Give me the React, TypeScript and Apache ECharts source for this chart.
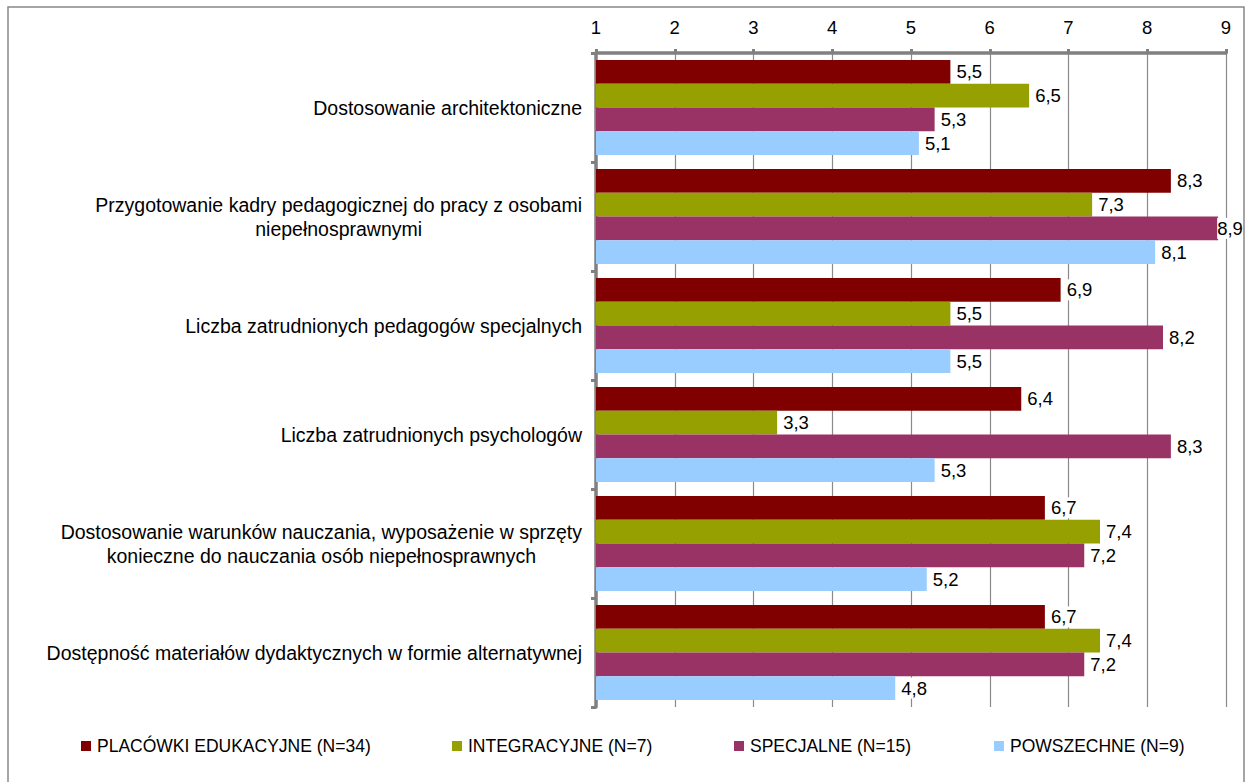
import React, { useEffect, useRef } from "react";
import * as echarts from "echarts";

const categories: string[] = [
  "Dostosowanie architektoniczne",
  "Przygotowanie kadry pedagogicznej do pracy z osobami\nniepełnosprawnymi",
  "Liczba zatrudnionych pedagogów specjalnych",
  "Liczba zatrudnionych psychologów",
  "Dostosowanie warunków nauczania, wyposażenie w sprzęty\nkonieczne do nauczania osób niepełnosprawnych",
  "Dostępność materiałów dydaktycznych w formie alternatywnej",
];

const seriesNames: string[] = [
  "PLACÓWKI EDUKACYJNE (N=34)",
  "INTEGRACYJNE (N=7)",
  "SPECJALNE (N=15)",
  "POWSZECHNE (N=9)",
];

const placowki: number[] = [5.5, 8.3, 6.9, 6.4, 6.7, 6.7];
const integracyjne: number[] = [6.5, 7.3, 5.5, 3.3, 7.4, 7.4];
const specjalne: number[] = [5.3, 8.9, 8.2, 8.3, 7.2, 7.2];
const powszechne: number[] = [5.1, 8.1, 5.5, 5.3, 5.2, 4.8];

const colors: string[] = ["#800000", "#96A000", "#993366", "#99CCFF"];
const axisTicks: number[] = [1, 2, 3, 4, 5, 6, 7, 8, 9];

const FONT = "'Liberation Sans', Arial, sans-serif";
const legendLefts = [76, 447, 729, 989];

export default function App() {
  const ref = useRef<HTMLDivElement>(null);
  useEffect(() => {
    if (!ref.current) return;
    const chart = echarts.init(ref.current, null, { renderer: "svg" });
    const allData = [placowki, integracyjne, specjalne, powszechne];
    const option: any = {
      animation: false,
      backgroundColor: "#ffffff",
      grid: { left: 596, right: 24, top: 53, bottom: 75, containLabel: false },
      legend: seriesNames.map((n, i) => ({
        data: [n],
        left: legendLefts[i],
        top: 732,
        icon: "rect",
        itemWidth: 10,
        itemHeight: 10,
        itemGap: 0,
        selectedMode: false,
        textStyle: { fontFamily: FONT, fontSize: 17.5, color: "#000", padding: [0, 0, 0, 1] },
      })),
      xAxis: {
        type: "value",
        position: "top",
        min: axisTicks[0],
        max: axisTicks[axisTicks.length - 1],
        interval: 1,
        axisLine: { show: true, lineStyle: { color: "#808080", width: 3.5 } },
        axisTick: { show: true, length: 4, lineStyle: { color: "#808080", width: 3 } },
        splitLine: { show: true, lineStyle: { color: "#8a8a8a", width: 1.2 } },
        axisLabel: {
          fontFamily: FONT,
          fontSize: 18.5,
          color: "#000",
          margin: 16,
        },
      },
      yAxis: {
        type: "category",
        inverse: true,
        data: categories,
        axisLine: { show: true, lineStyle: { color: "#808080", width: 3.5 } },
        axisTick: { show: true, length: 5, lineStyle: { color: "#808080", width: 3 } },
        axisLabel: {
          margin: 14,
          align: "right",
          formatter: (v: string) =>
            v
              .split("\n")
              .map((l) => "{c|" + l + "}")
              .join("\n"),
          rich: {
            c: {
              fontFamily: FONT,
              fontSize: 19.5,
              color: "#000",
              align: "center",
              lineHeight: 24,
            },
          },
        },
      },
      series: allData.map((arr, i) => ({
        type: "bar",
        name: seriesNames[i],
        barGap: "0%",
        barCategoryGap: "12.8%",
        itemStyle: { color: colors[i] },
        data: arr.map((v) =>
          v >= 8.9
            ? { value: v, label: { distance: -1, padding: [1, 0, 1, 0] } }
            : v
        ),
        label: {
          show: true,
          position: "right",
          distance: 4,
          padding: [1, 2, 1, 2],
          backgroundColor: "#ffffff",
          fontFamily: FONT,
          fontSize: 18.5,
          color: "#000",
          formatter: (p: any) => String(p.value).replace(".", ","),
        },
      })),
      graphic: [
        {
          type: "rect",
          shape: { x: 8, y: 7, width: 1236, height: 800 },
          style: { fill: "none", stroke: "#888888", lineWidth: 1.5 },
          silent: true,
        },
      ],
    };
    chart.setOption(option);
    return () => chart.dispose();
  }, []);
  return (
    <div
      ref={ref}
      style={{ position: "absolute", left: 0, top: 0, width: 1250, height: 782 }}
    />
  );
}
